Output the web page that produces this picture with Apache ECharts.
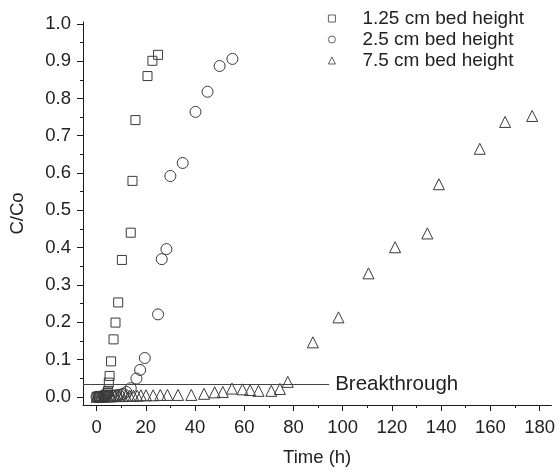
<!DOCTYPE html>
<html>
<head>
<meta charset="utf-8">
<script src="https://cdn.jsdelivr.net/npm/echarts@6/dist/echarts.min.js"></script>
<style>
html,body{margin:0;padding:0;background:#fff;}
#chart{width:558px;height:472px;}
</style>
</head>
<body>
<div id="chart"></div>
<script>
// Series names
const seriesNames = ['1.25 cm bed height', '2.5 cm bed height', '7.5 cm bed height'];

// 1.25 cm bed height: [time (h), C/Co]
const bed125 = [
  [0,0],[0.5,0],[1,0],[1.5,0.001],[2,0.002],[2.5,0.002],[3,0.003],[3.5,0.004],[4,0.006],
  [4.4,0.01],[4.7,0.016],[5.0,0.038],[5.3,0.056],[5.9,0.095],[6.9,0.154],[7.7,0.199],
  [8.8,0.253],[10.3,0.367],[13.9,0.440],[14.6,0.579],[15.8,0.742],[20.7,0.860],
  [22.7,0.901],[25.0,0.917]
];

// 2.5 cm bed height
const bed25 = [
  [0,0],[1,0],[2,0],[3,0.001],[4,0.001],[5,0.002],[6,0.002],[7,0.003],[8,0.004],
  [9,0.005],[10,0.006],[11,0.008],[12.1,0.013],[13.9,0.023],[16.2,0.049],[17.7,0.072],
  [19.6,0.104],[25.0,0.221],[26.5,0.369],[28.4,0.396],[30.0,0.592],[35.0,0.627],
  [40.2,0.764],[45.1,0.818],[50.0,0.887],[55.2,0.906]
];

// 7.5 cm bed height
const bed75 = [
  [0,0],[1.5,0],[3,0.001],[4.5,0.001],[6,0.001],[7.5,0.002],[9,0.002],[10.5,0.002],
  [12,0.003],[13.5,0.003],[15,0.003],[16.5,0.003],[18,0.004],[20.1,0.004],[23,0.004],
  [25.9,0.005],[28.8,0.005],[33.1,0.005],[38.5,0.005],[43.7,0.008],[48,0.012],
  [51.3,0.013],[55,0.022],[59.3,0.02],[62.4,0.018],[65.8,0.016],[71,0.016],[74.5,0.021],
  [77.7,0.040],[87.9,0.146],[98.3,0.213],[110.5,0.331],[121.3,0.401],[134.4,0.438],
  [139.1,0.570],[155.7,0.665],[166,0.737],[177,0.753]
];

// Breakthrough reference line
const breakthroughLabel = 'Breakthrough';
const breakthroughValue = 0.034;
const breakthroughEndX = 94.5;

// Axis ranges and ticks
const xRange = [-5.5, 184.8];
const yRange = [-0.022, 1.005];
const xMajorTicks = [0,20,40,60,80,100,120,140,160,180];
const xMinorTicks = [10,30,50,70,90,110,130,150,170];
const yMajorTicks = [0,0.1,0.2,0.3,0.4,0.5,0.6,0.7,0.8,0.9,1.0];
const yMinorTicks = [0.05,0.15,0.25,0.35,0.45,0.55,0.65,0.75,0.85,0.95];
const xName = 'Time (h)';
const yName = 'C/Co';

const FONT = 'Liberation Sans, Arial, sans-serif';
const TXT = '#222';
const AX = '#1a1a1a';

const chart = echarts.init(document.getElementById('chart'), null, {renderer: 'canvas'});

function hollow(sym, size, data, name, extra) {
  return Object.assign({
    name: name,
    type: 'scatter',
    symbol: sym,
    symbolSize: size,
    data: data,
    xAxisIndex: 0,
    yAxisIndex: 0,
    itemStyle: {color: 'rgba(255,255,255,0)', borderColor: '#3a3a3a', borderWidth: 1, opacity: 1},
    emphasis: {disabled: true},
    animation: false
  }, extra || {});
}

const option = {
  animation: false,
  backgroundColor: '#fff',
  textStyle: {fontFamily: FONT},
  grid: {left: 83, right: 5.3, top: 22, bottom: 67, containLabel: false},
  legend: {
    orient: 'vertical',
    left: 323,
    top: 4,
    itemWidth: 7,
    itemHeight: 7,
    itemGap: 2,
    data: seriesNames,
    itemStyle: {borderWidth: 0.8},
    textStyle: {fontSize: 19, color: TXT, fontFamily: FONT, padding: [0,0,0,22]},
    selectedMode: false
  },
  xAxis: [
    {
      type: 'value', min: xRange[0], max: xRange[1], position: 'bottom',
      name: xName, nameLocation: 'middle', nameGap: 43,
      nameTextStyle: {fontSize: 18.5, color: TXT, fontFamily: FONT},
      axisLine: {show: true, onZero: false, lineStyle: {color: AX, width: 1}},
      axisTick: {show: true, inside: false, length: 6, customValues: xMajorTicks, lineStyle: {color: AX}},
      axisLabel: {show: true, customValues: xMajorTicks, fontSize: 18.5, color: TXT, margin: 13, fontFamily: FONT},
      splitLine: {show: false}
    },
    {
      type: 'value', min: xRange[0], max: xRange[1], position: 'bottom', offset: 0,
      axisLine: {show: false, onZero: false},
      axisTick: {show: true, inside: false, length: 3, customValues: xMinorTicks, lineStyle: {color: AX}},
      axisLabel: {show: false},
      splitLine: {show: false}
    }
  ],
  yAxis: [
    {
      type: 'value', min: yRange[0], max: yRange[1], position: 'left',
      name: yName, nameLocation: 'middle', nameGap: 56,
      nameTextStyle: {fontSize: 18.5, color: TXT, fontFamily: FONT},
      axisLine: {show: true, onZero: false, lineStyle: {color: AX, width: 1}},
      axisTick: {show: true, inside: false, length: 6, customValues: yMajorTicks, lineStyle: {color: AX}},
      axisLabel: {show: true, customValues: yMajorTicks, fontSize: 18.5, color: TXT, margin: 12, fontFamily: FONT,
        formatter: function (v) { return v.toFixed(1); }},
      splitLine: {show: false}
    },
    {
      type: 'value', min: yRange[0], max: yRange[1], position: 'left', offset: 0,
      axisLine: {show: false, onZero: false},
      axisTick: {show: true, inside: false, length: 3, customValues: yMinorTicks, lineStyle: {color: AX}},
      axisLabel: {show: false},
      splitLine: {show: false}
    }
  ],
  series: [
    hollow('rect', 9, bed125, seriesNames[0], {
      markLine: {
        silent: true,
        symbol: ['none', 'none'],
        animation: false,
        lineStyle: {color: '#444', width: 1, type: 'solid'},
        label: {show: true, position: 'end', formatter: breakthroughLabel, fontSize: 20.5, color: TXT, distance: 6, fontFamily: FONT},
        data: [[{coord: [xRange[0], breakthroughValue]}, {coord: [breakthroughEndX, breakthroughValue]}]]
      }
    }),
    hollow('circle', 11, bed25, seriesNames[1]),
    hollow('triangle', 11, bed75, seriesNames[2])
  ]
};

chart.setOption(option);
</script>
</body>
</html>
